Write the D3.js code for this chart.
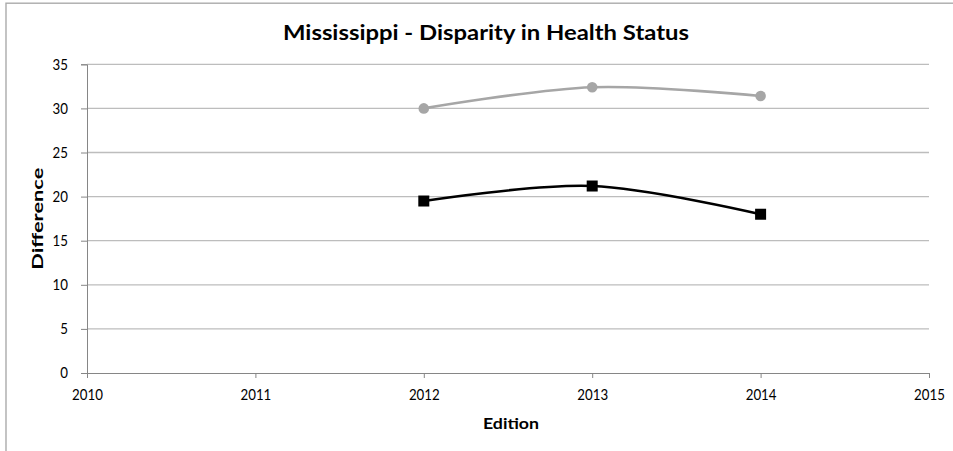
<!DOCTYPE html>
<html>
<head>
<meta charset="utf-8">
<script src="https://cdn.jsdelivr.net/npm/d3@7"></script>
<style>
  html, body { margin: 0; padding: 0; background: #ffffff; }
  svg { display: block; }
  text { font-family: Lato, "Open Sans", "DejaVu Sans", sans-serif; fill: #000; }
</style>
</head>
<body>
<svg id="chart" width="953" height="451"></svg>
<script>
// Chart data
const editions = [2012, 2013, 2014];
const upperSeries = [30.0, 32.4, 31.4];   // grey line with circles
const lowerSeries = [19.5, 21.2, 18.0];   // black line with squares
const xTicks = [2010, 2011, 2012, 2013, 2014, 2015];
const yTicks = [0, 5, 10, 15, 20, 25, 30, 35];
const titleText = "Mississippi - Disparity in Health Status";
const xTitle = "Edition";
const yTitle = "Difference";

const svg = d3.select("#chart");

// Outer chart frame (continues past the right and bottom edges)
svg.append("rect")
  .attr("x", 6).attr("y", 3.2)
  .attr("width", 1100).attr("height", 1100)
  .attr("fill", "none")
  .attr("stroke", "#ababab")
  .attr("stroke-width", 1.4);

const plot = { left: 87, right: 929, top: 64.3, bottom: 373 };

const x = d3.scaleLinear().domain([2010, 2015]).range([plot.left, plot.right]);
const y = d3.scaleLinear().domain([0, 35]).range([plot.bottom, plot.top]);

// Horizontal gridlines
svg.append("g")
  .selectAll("line")
  .data(yTicks.filter(d => d > 0))
  .join("line")
  .attr("x1", plot.left).attr("x2", plot.right)
  .attr("y1", d => y(d)).attr("y2", d => y(d))
  .attr("stroke", "#bdbdbd")
  .attr("stroke-width", 1.3);

// Condensed tick labels: fixed advance per digit
function styleTickText(sel) {
  sel.attr("font-size", 15)
    .style("font-size", "15px")
    .attr("fill", "#000")
    .attr("textLength", function () { return this.textContent.length * 7.7; })
    .attr("lengthAdjust", "spacingAndGlyphs");
}

// Y axis
const yAxis = svg.append("g")
  .attr("transform", `translate(${plot.left},0)`)
  .attr("font-size", 15)
  .call(d3.axisLeft(y).tickValues(yTicks).tickSize(6).tickPadding(13).tickFormat(d3.format("d")));
yAxis.select(".domain").attr("stroke", "#868686");
yAxis.selectAll(".tick line").attr("stroke", "#868686");
yAxis.selectAll(".tick text").call(styleTickText);

// X axis
const xAxis = svg.append("g")
  .attr("transform", `translate(0,${plot.bottom})`)
  .attr("font-size", 15)
  .call(d3.axisBottom(x).tickValues(xTicks).tickSize(5).tickPadding(11).tickFormat(d3.format("d")));
xAxis.select(".domain").attr("stroke", "#868686");
xAxis.selectAll(".tick line").attr("stroke", "#868686");
xAxis.selectAll(".tick text").call(styleTickText);

// Smoothed lines
const line = d3.line()
  .x((d, i) => x(editions[i]))
  .y(d => y(d))
  .curve(d3.curveCardinal.tension(0));

svg.append("path")
  .datum(upperSeries)
  .attr("d", line)
  .attr("fill", "none")
  .attr("stroke", "#a6a6a6")
  .attr("stroke-width", 2.6);

svg.append("path")
  .datum(lowerSeries)
  .attr("d", line)
  .attr("fill", "none")
  .attr("stroke", "#000")
  .attr("stroke-width", 2.6);

// Markers
svg.append("g")
  .selectAll("circle")
  .data(upperSeries)
  .join("circle")
  .attr("cx", (d, i) => x(editions[i]))
  .attr("cy", d => y(d))
  .attr("r", 5.3)
  .attr("fill", "#a6a6a6");

const sq = 11;
svg.append("g")
  .selectAll("rect")
  .data(lowerSeries)
  .join("rect")
  .attr("x", (d, i) => x(editions[i]) - sq / 2)
  .attr("y", d => y(d) - sq / 2)
  .attr("width", sq).attr("height", sq)
  .attr("fill", "#000");

// Titles
svg.append("text")
  .attr("x", 486).attr("y", 40)
  .attr("text-anchor", "middle")
  .attr("textLength", 406)
  .attr("lengthAdjust", "spacingAndGlyphs")
  .style("font-size", "21px")
  .style("font-weight", "bold")
  .text(titleText);

svg.append("text")
  .attr("x", (plot.left + plot.right) / 2 + 3).attr("y", 429)
  .attr("text-anchor", "middle")
  .attr("textLength", 56)
  .attr("lengthAdjust", "spacingAndGlyphs")
  .style("font-size", "16px")
  .style("font-weight", "bold")
  .text(xTitle);

svg.append("text")
  .attr("transform", `translate(43,${(plot.top + plot.bottom) / 2}) rotate(-90)`)
  .attr("text-anchor", "middle")
  .attr("textLength", 102)
  .attr("lengthAdjust", "spacingAndGlyphs")
  .style("font-size", "16px")
  .style("font-weight", "bold")
  .text(yTitle);
</script>
</body>
</html>
